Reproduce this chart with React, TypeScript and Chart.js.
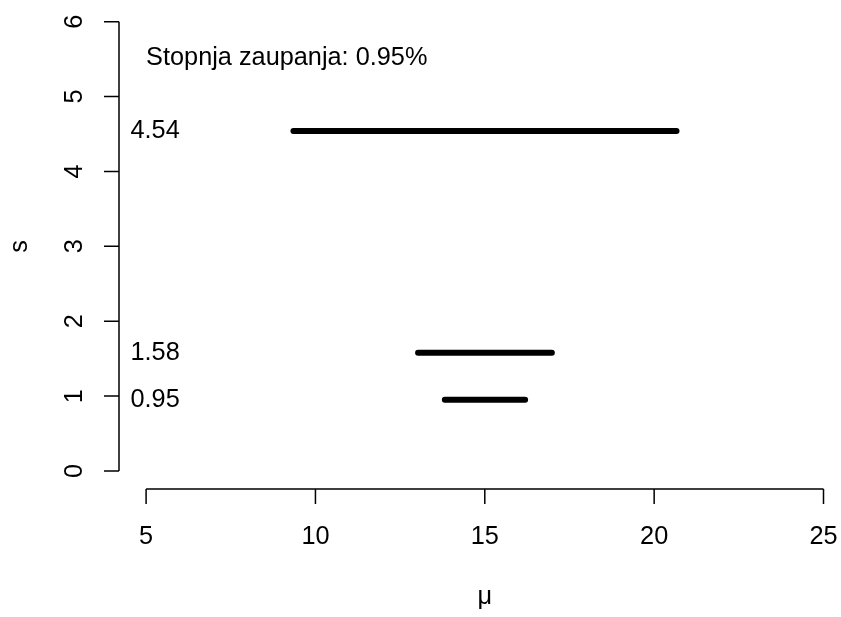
import React, { useEffect, useRef } from "react";
import { Chart, registerables } from "chart.js";

Chart.register(...registerables);

// ---- data ----
const sValues = [4.54, 1.58, 0.95];
const lowerMu = [9.35, 13.03, 13.82];
const upperMu = [20.66, 16.98, 16.19];
const sLabels = ["4.54", "1.58", "0.95"];
const xTicks = [5, 10, 15, 20, 25];
const yTicks = [0, 1, 2, 3, 4, 5, 6];
const titleText = "Stopnja zaupanja: 0.95%";
const xTitle = "μ";
const yTitle = "s";
const labelX = 4.54;
const titleX = 5;
const titleY = 5.52;

const FONT = '"Liberation Sans", Arial, Helvetica, sans-serif';

const rAxesPlugin = {
  id: "rAxes",
  afterDraw(chart: any) {
    const ctx = chart.ctx as CanvasRenderingContext2D;
    const xs = chart.scales.x;
    const ys = chart.scales.y;
    const area = chart.chartArea;
    ctx.save();
    ctx.strokeStyle = "#000";
    ctx.fillStyle = "#000";
    ctx.lineWidth = 1.5;
    ctx.font = `25.3px ${FONT}`;

    // x axis
    const xb = area.bottom;
    ctx.beginPath();
    ctx.moveTo(xs.getPixelForValue(xTicks[0]), xb);
    ctx.lineTo(xs.getPixelForValue(xTicks[xTicks.length - 1]), xb);
    for (const t of xTicks) {
      const px = xs.getPixelForValue(t);
      ctx.moveTo(px, xb);
      ctx.lineTo(px, xb + 15);
    }
    ctx.stroke();
    ctx.textAlign = "center";
    ctx.textBaseline = "alphabetic";
    for (const t of xTicks) {
      ctx.fillText(String(t), xs.getPixelForValue(t), xb + 55);
    }

    // y axis
    const yl = area.left;
    ctx.beginPath();
    ctx.moveTo(yl, ys.getPixelForValue(yTicks[0]));
    ctx.lineTo(yl, ys.getPixelForValue(yTicks[yTicks.length - 1]));
    for (const t of yTicks) {
      const py = ys.getPixelForValue(t);
      ctx.moveTo(yl, py);
      ctx.lineTo(yl - 15, py);
    }
    ctx.stroke();
    for (const t of yTicks) {
      ctx.save();
      ctx.translate(yl - 37.5, ys.getPixelForValue(t));
      ctx.rotate(-Math.PI / 2);
      ctx.textAlign = "center";
      ctx.textBaseline = "alphabetic";
      ctx.fillText(String(t), 0, 0);
      ctx.restore();
    }

    // axis titles
    ctx.textAlign = "center";
    ctx.textBaseline = "alphabetic";
    ctx.fillText(xTitle, (area.left + area.right) / 2, xb + 115);
    ctx.save();
    ctx.translate(yl - 92.5, (area.top + area.bottom) / 2);
    ctx.rotate(-Math.PI / 2);
    ctx.fillText(yTitle, 0, 0);
    ctx.restore();

    // annotations
    ctx.textAlign = "left";
    ctx.textBaseline = "middle";
    ctx.fillText(titleText, xs.getPixelForValue(titleX), ys.getPixelForValue(titleY));
    sValues.forEach((s, i) => {
      ctx.fillText(sLabels[i], xs.getPixelForValue(labelX), ys.getPixelForValue(s));
    });
    ctx.restore();
  },
};

export default function App() {
  const ref = useRef<HTMLCanvasElement | null>(null);
  useEffect(() => {
    if (!ref.current) return;
    const datasets = sValues.map((s, i) => ({
      data: [
        { x: lowerMu[i], y: s },
        { x: upperMu[i], y: s },
      ],
      showLine: true,
      borderColor: "#000",
      backgroundColor: "#000",
      borderWidth: 6,
      borderCapStyle: "round" as const,
      pointRadius: 0,
      pointHoverRadius: 0,
      clip: false as any,
    }));
    const chart = new Chart(ref.current, {
      type: "scatter",
      data: { datasets },
      options: {
        animation: false,
        responsive: false,
        devicePixelRatio: 1,
        events: [],
        layout: { padding: { left: 119, right: 1.4, top: 3.65, bottom: 128 } },
        scales: {
          x: { type: "linear", min: 4.2, max: 25.8, display: false },
          y: { type: "linear", min: -0.24, max: 6.24, display: false },
        },
        plugins: { legend: { display: false }, tooltip: { enabled: false } },
      },
      plugins: [rAxesPlugin],
    });
    return () => chart.destroy();
  }, []);
  return (
    <div
      style={{
        position: "fixed",
        left: 0,
        top: 0,
        width: 841,
        height: 617,
        overflow: "hidden",
        background: "#fff",
      }}
    >
      <canvas ref={ref} width={852} height={617} style={{ display: "block" }} />
    </div>
  );
}
